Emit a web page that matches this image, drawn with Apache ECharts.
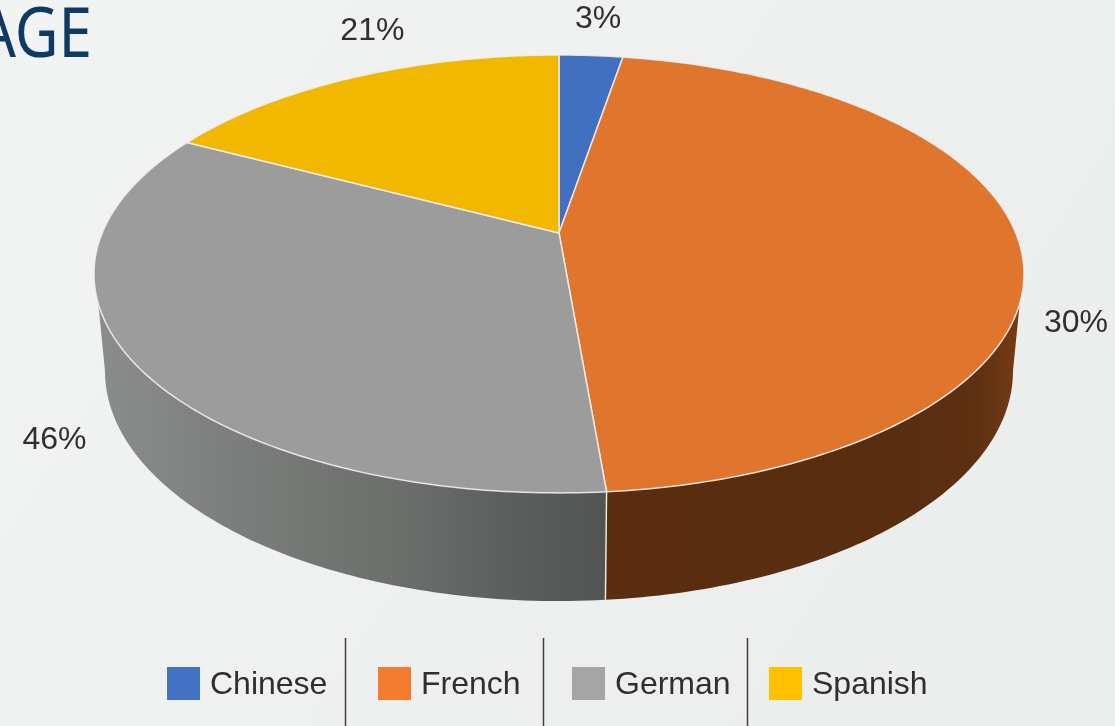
<!DOCTYPE html>
<html lang="en">
<head>
<meta charset="UTF-8">
<title>Language share</title>
<script src="https://cdn.jsdelivr.net/npm/echarts@6/dist/echarts.min.js"></script>
<style>
html,body{margin:0;padding:0;}
#main{width:1115px;height:726px;}
</style>
</head>
<body>
<div id="main"></div>
<script>
// languages, in clockwise order from 12 o'clock
var languages = ['Chinese', 'French', 'German', 'Spanish'];
// slice sizes as drawn in the picture
var sliceShares = [2.65, 46, 34.05, 17.3];
// what the labels say (they do not agree with the drawn slices in the original)
var labelTexts = ['3%', '30%', '46%', '21%'];

var topColors = ['#4170c0', '#e0752e', '#9b9c9b', '#f2b800'];
var legendColors = ['#4472c4', '#f27b30', '#a5a5a5', '#ffc000'];
var legendLefts = [167, 378, 572, 769];
var separatorXs = [345, 543, 747];
var labelOffsets = [[7, -36.5], [57, 81.5], [-80, 77], [17, -46]];

// perspective disc, top face and base
var K = 0.187;
var topFace = {cx: 559, cy: 233, a: 456.8, b: 211.3};
var baseFace = {cx: 559, cy: 328, a: 446, b: 222};
// part of the rim that faces the viewer, in radians clockwise from the top
var WALL_FROM = 108.4 * Math.PI / 180;
var WALL_TO = 251.6 * Math.PI / 180;
// the base is seen a bit further round than the top edge
var BASE_FROM = 100.8 * Math.PI / 180;
var BASE_TO = 259.2 * Math.PI / 180;

var wallFills = {
    French: {type: 'linear', x: 0, y: 0, x2: 1, y2: 0, colorStops: [
        {offset: 0, color: '#5a2d10'}, {offset: 0.72, color: '#592d10'},
        {offset: 0.9, color: '#5e3012'}, {offset: 1, color: '#753c14'}]},
    German: {type: 'linear', x: 0, y: 0, x2: 1, y2: 0, colorStops: [
        {offset: 0, color: '#8b8d8c'}, {offset: 0.4, color: '#757775'},
        {offset: 0.6, color: '#6c6e6c'}, {offset: 0.8, color: '#5d5f5e'},
        {offset: 1, color: '#515453'}]}
};

var total = sliceShares.reduce(function (s, v) { return s + v; }, 0);

function project(face, t) {
    var X = Math.sin(t), Y = -Math.cos(t);
    var d = 1 - K * Y;
    return [face.cx + face.a * X / d, face.cy + face.b * Y / d];
}

function arc(face, from, to) {
    var pts = [], n = Math.max(2, Math.ceil(Math.abs(to - from) * 60));
    for (var i = 0; i <= n; i++) {
        pts.push(project(face, from + (to - from) * i / n));
    }
    return pts;
}

function sliceAngles(idx) {
    var before = 0;
    for (var i = 0; i < idx; i++) before += sliceShares[i];
    return [before / total * Math.PI * 2, (before + sliceShares[idx]) / total * Math.PI * 2];
}

function renderSlice(idx) {
    return function () {
        var ang = sliceAngles(idx);
        var kids = [];
        var from = Math.max(ang[0], WALL_FROM), to = Math.min(ang[1], WALL_TO);
        if (from < to) {
            var baseFrom = ang[0] < WALL_FROM ? BASE_FROM : ang[0];
            var baseTo = ang[1] > WALL_TO ? BASE_TO : ang[1];
            var wall = arc(topFace, from, to).concat(arc(baseFace, baseTo, baseFrom));
            kids.push({type: 'polygon', z2: 1, shape: {points: wall},
                style: {fill: wallFills[languages[idx]]}});
            if (ang[0] >= WALL_FROM) {
                kids.push({type: 'line', z2: 2, shape: {
                    x1: project(topFace, ang[0])[0], y1: project(topFace, ang[0])[1],
                    x2: project(baseFace, ang[0])[0], y2: project(baseFace, ang[0])[1]},
                    style: {stroke: '#e8e8e6', lineWidth: 1.5}});
            }
        }
        var face = [[topFace.cx, topFace.cy]].concat(arc(topFace, ang[0], ang[1]));
        kids.push({type: 'polygon', z2: 3, shape: {points: face},
            style: {fill: topColors[idx], stroke: 'rgba(238,238,236,0.9)', lineWidth: 1.5, lineJoin: 'round'}});
        var mid = project(topFace, (ang[0] + ang[1]) / 2);
        kids.push({type: 'text', z2: 4, style: {
            x: mid[0] + labelOffsets[idx][0],
            y: mid[1] + labelOffsets[idx][1],
            text: labelTexts[idx],
            fill: '#2f2f2f',
            font: '32px "Liberation Sans", Arial, sans-serif',
            align: 'center',
            verticalAlign: 'middle'
        }});
        return {type: 'group', children: kids};
    };
}

var myChart = echarts.init(document.getElementById('main'));

var option = {
    animation: false,
    backgroundColor: {type: 'linear', x: 0, y: 0, x2: 1, y2: 1, colorStops: [
        {offset: 0, color: '#f2f3f3'}, {offset: 1, color: '#ebecec'}]},
    legend: languages.map(function (name, i) {
        return {
            left: legendLefts[i],
            top: 667,
            padding: 0,
            icon: 'rect',
            itemWidth: 33,
            itemHeight: 33,
            selectedMode: false,
            data: [{name: name, itemStyle: {color: legendColors[i]}}],
            formatter: '{n|{name}}',
            textStyle: {
                rich: {n: {fontSize: 32, color: '#2f2f2f', fontFamily: '"Liberation Sans", Arial, sans-serif', padding: [4, 0, 0, 5]}}
            }
        };
    }),
    graphic: separatorXs.map(function (x) {
        return {type: 'line', silent: true, shape: {x1: x + 0.5, y1: 638, x2: x + 0.5, y2: 726},
            style: {stroke: '#3f3f3f', lineWidth: 1.5}};
    }).concat([{
        type: 'text', silent: true, x: 92, y: 37, scaleX: 0.86,
        style: {text: 'AGE', fill: '#0f3a63', font: '70px "Noto Sans", sans-serif', align: 'right', verticalAlign: 'middle'}
    }]),
    series: languages.map(function (name, i) {
        return {
            type: 'custom',
            name: name,
            coordinateSystem: 'none',
            silent: true,
            itemStyle: {color: legendColors[i]},
            data: [[sliceShares[i]]],
            renderItem: renderSlice(i)
        };
    })
};

myChart.setOption(option);
</script>
</body>
</html>
